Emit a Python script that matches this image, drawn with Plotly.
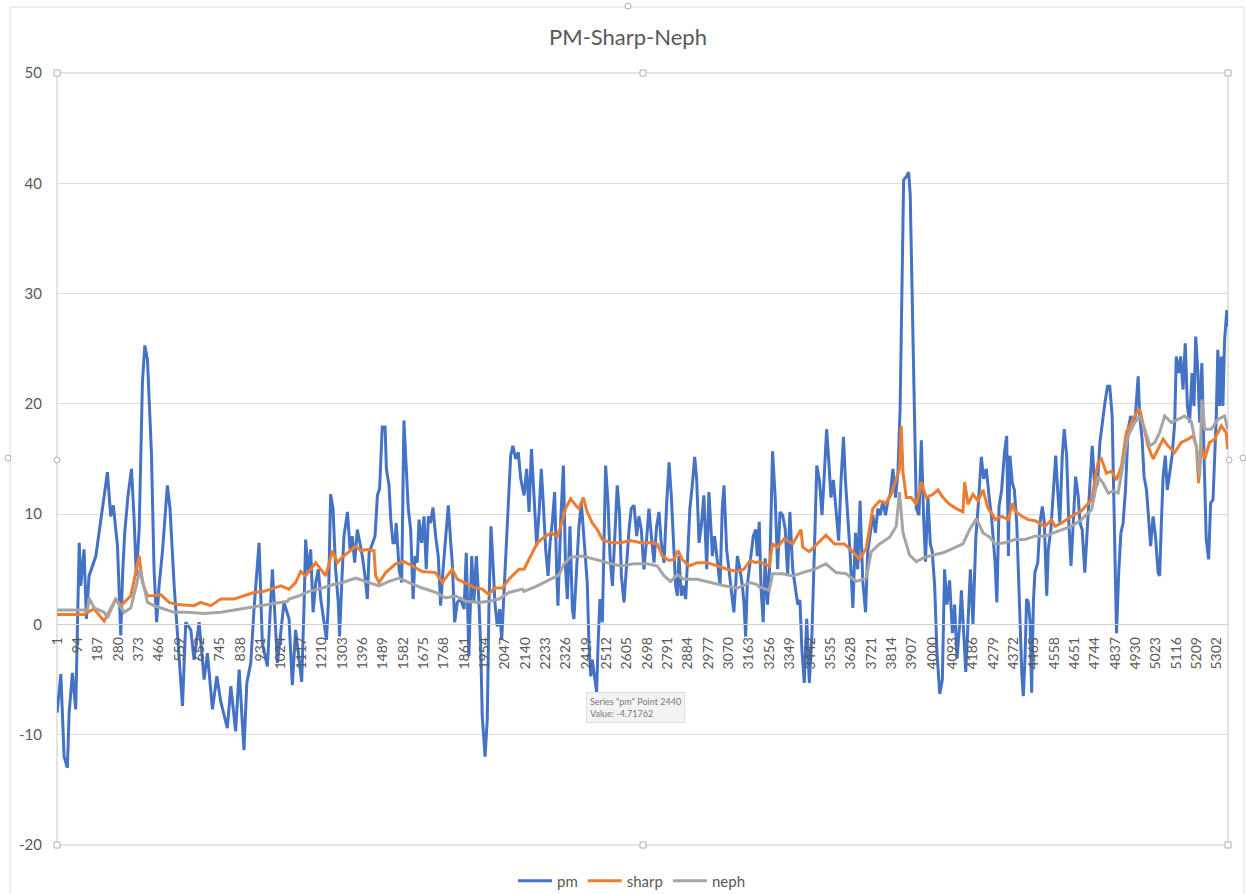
import plotly.graph_objects as go

# ---------------- data ----------------
title_text = "PM-Sharp-Neph"
series_names = ["pm", "sharp", "neph"]

x_ticks = list(range(1, 5303, 93))          # category labels shown: 1, 94, ..., 5302
y_ticks = [-20, -10, 0, 10, 20, 30, 40, 50]

pm_idx = [
    1, 18, 33, 48, 56, 71, 86, 102, 109, 124,
    135, 147, 178, 201, 231, 246, 258, 277, 287, 292,
    300, 310, 325, 341, 353, 363, 376, 391, 402, 414,
    432, 444, 456, 467, 482, 505, 517, 536, 574, 589,
    612, 627, 650, 673, 688, 711, 731, 749, 779, 795,
    817, 833, 855, 868, 886, 901, 924, 939, 962, 985,
    1008, 1038,
    1061, 1076, 1091, 1107, 1119, 1130, 1137, 1149, 1160, 1171,
    1183, 1195, 1206, 1221, 1232, 1241, 1251, 1262, 1274, 1286,
    1292, 1302, 1312, 1328, 1340, 1350, 1361, 1373, 1384, 1396,
    1408, 1419, 1427, 1439, 1454, 1465, 1475, 1487, 1500, 1506,
    1518, 1526, 1536, 1545, 1551, 1564, 1576, 1586, 1597, 1606,
    1617, 1628, 1637, 1647, 1655, 1667, 1678, 1688, 1698, 1708,
    1719, 1731, 1743, 1754, 1765, 1777, 1789, 1800, 1807, 1818,
    1830, 1845, 1861, 1871, 1883, 1896, 1906, 1917, 1929, 1937,
    1944, 1957, 1967, 1975, 1984, 1993, 2002, 2013, 2024, 2033,
    2043, 2054, 2063, 2074, 2084, 2097, 2109, 2120,
    2135, 2147, 2158, 2169, 2181, 2193, 2204, 2214, 2223, 2234,
    2245, 2254, 2264, 2275, 2284, 2290, 2303, 2315, 2325, 2333,
    2345, 2356, 2363, 2376, 2386, 2397, 2409, 2417, 2424, 2432,
    2440, 2447, 2458, 2467, 2473, 2482, 2493, 2501, 2508, 2519,
    2528, 2539, 2549, 2561, 2571, 2580, 2592, 2604, 2615, 2625,
    2638, 2650, 2660, 2671, 2683, 2695, 2706, 2717, 2729, 2741,
    2752, 2762, 2775, 2787, 2798, 2808, 2820, 2828, 2836, 2843,
    2854, 2863, 2874, 2881, 2893, 2904, 2915, 2924, 2935, 2945,
    2957, 2970, 2980, 2988, 2996, 3006, 3018, 3031, 3041, 3049,
    3061, 3072, 3082, 3094, 3102, 3110, 3122, 3133, 3140, 3148,
    3155, 3163, 3171, 3183, 3194, 3201,
    3210, 3218, 3228, 3237, 3248, 3259, 3271, 3283, 3294, 3305,
    3317, 3329, 3340, 3350, 3363, 3375, 3386, 3396, 3405, 3416,
    3427, 3439, 3451, 3462, 3473, 3485, 3497, 3508, 3518, 3528,
    3538, 3549, 3561, 3573, 3584, 3595, 3604, 3615, 3625, 3638,
    3650, 3660, 3671, 3683, 3696, 3706, 3717, 3729, 3741, 3752,
    3763, 3775, 3787, 3798, 3809, 3821, 3833, 3844, 3854, 3864,
    3870, 3882, 3893, 3900, 3909, 3919, 3928, 3940, 3951, 3961,
    3970, 3981, 3992, 4001, 4012, 4022, 4035, 4047, 4057, 4068,
    4080, 4093, 4103, 4114, 4126, 4134, 4145, 4154, 4164, 4175,
    4187, 4200, 4210, 4225, 4236, 4248, 4261, 4271,
    4288, 4296, 4306, 4318, 4331, 4341, 4349, 4356, 4367, 4376,
    4387, 4394, 4402, 4410, 4417, 4425, 4432, 4440, 4448, 4455,
    4463, 4470, 4483, 4493, 4504, 4513, 4524, 4531, 4543, 4554,
    4565, 4574, 4584, 4595, 4604, 4615, 4625, 4635, 4645, 4656,
    4668, 4676, 4686, 4698, 4711, 4721, 4732, 4744, 4756, 4767,
    4777, 4790, 4802, 4812, 4823, 4832, 4843, 4853, 4863, 4873,
    4884, 4896, 4908, 4919, 4929, 4942, 4949, 4960, 4969, 4980,
    4990, 4999, 5010, 5021, 5033, 5040, 5048, 5056, 5066, 5075,
    5086, 5097, 5109, 5116, 5127, 5136, 5147, 5157, 5167, 5177,
    5188, 5197, 5205, 5215, 5223, 5233, 5243, 5253, 5264, 5273,
    5284, 5291, 5299, 5306, 5314, 5322, 5329, 5337, 5347, 5351,
]
pm_val = [
    -8, -4.5, -12, -13, -8, -4.4, -7.7, 7.4, 3.5, 6.8,
    0.5, 4.4, 6.2, 9.5, 13.8, 9.8, 10.8, 7.1, 2.3, -1,
    4.4, 8.3, 11.7, 14.1, 9.5, 4.4, 8.6, 22, 25.3, 24,
    15.6, 5, 0.2, 3.5, 6.5, 12.6, 10.5, 3.5, -7.4, 0.2,
    -0.5, -3.2, 0.2, -5, -2.6, -7.7, -4.7, -7, -9.4, -5.6,
    -9.7, -4.1, -11.4, -5.3, -3.5, 1.4, 7.4, -1.7, -3.8, 5,
    -3.5, 2,
    0.5, -5.5, -0.5, -3.2, -5.2, 2, 7.7, 4.7, 6.8, 1.1,
    3.8, 5, 2.3, 0.2, -1.4, 2, 11.8, 10.5, 5, 2,
    -1.1, 3.8, 8, 10.2, 6.8, 8, 5.6, 8.6, 7.4, 6.2,
    4.4, 2.3, 6.5, 7.1, 8, 11.7, 12.3, 17.9, 17.9, 14.1,
    12.6, 9.5, 7.4, 7.4, 9.2, 5, 3.8, 18.5, 14.1, 10.5,
    8.6, 2.3, 6.2, 5.6, 9.5, 7.4, 9.8, 5, 9.8, 9.2,
    10.6, 8, 6.2, 1.7, 5, 7.7, 10.8, 7.4, 5.6, 0.2,
    2, 2.3, 1.4, 6.5, -2.9, 6.2, 2, 6.2, 2, -2,
    -8.3, -12, -8.6, 2, 8.9, 5.6, 2, -0.2, 1.4, -1.4,
    2.6, 6.2, 11, 15.3, 16.2, 15, 15.6, 13.2,
    11.7, 14.1, 10.2, 15.9, 11.5, 7.1, 10.2, 14.1, 11, 6.8,
    4.4, 7.4, 9.2, 12, 5, 1.7, 9.5, 14.4, 5, 2.3,
    8.9, 1.4, 0.5, 5, 8.9, 11, 7.4, 5, 3.8, -2,
    -4.71762, -3.2, -5, -6.2, -2, 2.3, 0.2, 8, 14.4, 11,
    6.2, 3.5, 8, 12.6, 10.2, 4.4, 2, 5.6, 8.6, 10.5,
    10.8, 8, 9.8, 8.6, 5, 7.7, 10.5, 8, 5.6, 8.9,
    10.2, 7.4, 5.6, 11, 14.7, 11.7, 7.4, 3.5, 2.6, 6.2,
    2.6, 3.5, 2.3, 5, 10.5, 12.6, 15.2, 13.2, 7.4, 8.9,
    11.7, 5, 12, 9.2, 6.2, 8, 5.6, 3.5, 10.5, 12.6,
    6.8, 5, 3.5, 1.1, 3.5, 6.2, 5, 3.5, 2, -1.1,
    3.5, 4.7, 6.2, 8, 8.6, 6.2,
    9.3, 3.4, 0.2, 6, 1.8, 5.7, 15.7, 11.5, 5, 10.2,
    9.9, 8.6, 4.4, 10.2, 5, 3.4, 1.8, 2.2, -2.3, -5.3,
    0.5, -5.3, -0.8, 6.6, 14.4, 13.1, 9.9, 13.8, 17.7, 14.8,
    11.5, 13.1, 9.9, 7.6, 13.1, 17, 13.1, 9.9, 6.6, 1.5,
    8.3, 5, 11.2, 4, 1.1, 6.6, 8.3, 9.9, 8.3, 10.5,
    9.9, 11.2, 9.9, 11.2, 11.8, 14.1, 11.5, 13.8, 19.6, 32.6,
    40.3, 40.6, 41, 39, 29.3, 19.6, 10.5, 9.9, 16.7, 9.9,
    5.7, 11.5, 7.3, 6.6, 3.4, -2.4, -6.3, -5, 5, 1.8,
    4, -0.8, 1.8, -3.1, 0, 3.1, -1.5, -4.3, 0, 5,
    0, 7.9, 10.5, 15.2, 13.2, 14.1, 11.5, 9.9,
    5.6, 2, 10.7, 12.2, 15.6, 17.1, 6.2, 15.3, 12.8, 12.2,
    9.2, 4.7, 0.2, -4.4, -6.5, -2.9, 2.3, 2, 0.2, -6.2,
    2, 4.7, 5.6, 9.2, 10.7, 9.2, 2.6, 6.8, 8.6, 11.6,
    15.3, 12.2, 9.2, 15.3, 17.7, 15.3, 9.2, 5.3, 9.2, 13.4,
    11.6, 9.2, 8.6, 4.7, 9.2, 12.5, 16.2, 12.2, 12.8, 16.5,
    18.3, 20.1, 21.6, 21.6, 18.9, 9.2, -0.8, 4.7, 8.3, 9.2,
    12.2, 17.7, 18.9, 18.3, 18.9, 22.5, 18.9, 16.8, 13.4, 12.2,
    9.2, 7.1, 9.8, 8, 4.7, 4.4, 9.2, 13.4, 15.3, 12.2,
    13.7, 15.3, 18.3, 24.3, 22.8, 24.3, 21.3, 25.5, 19.8, 18.3,
    22.8, 19.8, 26.1, 22.8, 18.3, 23.7, 15.3, 7.7, 5.9, 11,
    11.3, 14.7, 18.9, 24.9, 19.8, 24.3, 19.8, 25.8, 28.5, 27,
]

sharp_idx = [
    1, 124, 140, 170, 216, 246, 269, 292, 338, 376,
    391, 414, 444, 475, 513, 551, 627, 657, 703, 749,
    810, 855, 901, 947, 1023,
    1061, 1091, 1114, 1137, 1183, 1206, 1229, 1259, 1282, 1305,
    1343, 1366, 1388, 1419, 1449, 1457, 1472, 1503, 1548, 1586,
    1625, 1670, 1731, 1762, 1784, 1807, 1830, 1861, 1914, 1944,
    1975, 1998, 2036, 2066, 2112,
    2135, 2165, 2196, 2226, 2257, 2287, 2303, 2325, 2348, 2371,
    2386, 2406, 2424, 2447, 2470, 2493, 2531, 2577, 2622, 2668,
    2714, 2744, 2767, 2798, 2820, 2839, 2858, 2889, 2927, 2973,
    3018, 3064, 3110, 3140, 3168, 3194,
    3210, 3256, 3271, 3294, 3325, 3363, 3401, 3409, 3439, 3477,
    3515, 3554, 3599, 3638, 3668, 3699, 3729, 3760, 3790, 3813,
    3836, 3851, 3859, 3867, 3882, 3905, 3928, 3951, 3974, 4004,
    4027, 4050, 4080, 4111, 4141, 4149, 4164, 4187, 4210, 4233,
    4256, 4279,
    4288, 4318, 4349, 4367, 4379, 4410, 4440, 4470, 4516, 4546,
    4562, 4592, 4638, 4683, 4729, 4759, 4774, 4797, 4820, 4843,
    4866, 4888, 4911, 4934, 4949, 4964, 4987, 5010, 5033, 5056,
    5078, 5109, 5139, 5170, 5192, 5208, 5218, 5230, 5246, 5268,
    5291, 5322, 5344, 5351,
]
sharp_val = [
    0.9, 0.9, 1.1, 1.4, 0.3, 1.4, 2.3, 1.7, 2.6, 6.2,
    3.8, 2.6, 2.6, 2.7, 2, 1.8, 1.7, 2, 1.7, 2.3,
    2.3, 2.6, 2.9, 3, 3.5,
    3.2, 3.8, 4.8, 4.4, 5.6, 5, 4.4, 6.7, 5.6, 6.1,
    6.7, 7.1, 6.7, 6.8, 6.7, 4.4, 3.8, 4.7, 5.5, 5.7,
    5.3, 4.8, 4.7, 3.8, 4.4, 5, 4.1, 3.8, 3.3, 3.2,
    2.7, 3.3, 3.3, 4.1, 5,
    5, 6.2, 7.4, 7.9, 8.3, 8, 8.9, 10.5, 11.4, 10.8,
    10.5, 11.5, 10.2, 9.2, 8.6, 7.7, 7.4, 7.4, 7.6, 7.4,
    7.4, 7.3, 6.2, 5.8, 5.9, 6.7, 5.9, 5.3, 5.6, 5.6,
    5.3, 5, 4.8, 5, 5.8, 5.6,
    5.7, 5.3, 7.3, 7, 7.8, 7.3, 8.6, 7, 6.6, 7.4,
    8.1, 7.3, 7.3, 6.6, 5.9, 6.9, 10.5, 11.2, 11, 11.8,
    13.1, 14.1, 18, 13.8, 11.5, 11.5, 10.9, 12.9, 11.5, 11.8,
    12.2, 11.5, 10.9, 10.5, 10.2, 12.9, 10.9, 11.8, 11.2, 12.2,
    10.5, 9.9,
    9.5, 9.8, 9.5, 11, 10.3, 9.8, 9.5, 9.4, 8.9, 9.5,
    8.9, 9.2, 9.8, 10.3, 11.3, 14.7, 15, 13.7, 13.9, 13.1,
    14.4, 17.4, 18.3, 19.2, 19.5, 18.3, 16.2, 15, 15.9, 16.8,
    16.2, 15.6, 16.5, 16.8, 17.1, 16.2, 12.8, 16.2, 15, 16.5,
    16.8, 18, 17.4, 15.9,
]

neph_idx = [
    1, 140, 147, 170, 216, 231, 269, 307, 338, 380,
    414, 444, 490, 536, 596, 673, 749, 840, 901, 977,
    1054,
    1061, 1107, 1152, 1213, 1259, 1305, 1366, 1427, 1472, 1518,
    1564, 1609, 1670, 1731, 1777, 1823, 1868, 1929, 1975, 2020,
    2066, 2127,
    2135, 2196, 2257, 2295, 2318, 2348, 2402, 2455, 2516, 2577,
    2638, 2699, 2744, 2775, 2805, 2836, 2866, 2927, 2988, 3049,
    3110, 3171, 3201,
    3210, 3256, 3271, 3317, 3363, 3409, 3462, 3515, 3561, 3607,
    3653, 3699, 3722, 3760, 3806, 3836, 3851, 3867, 3897, 3928,
    3958, 4004, 4050, 4096, 4141, 4172, 4203, 4233, 4264,
    4288, 4334, 4379, 4425, 4470, 4516, 4554, 4592, 4638, 4683,
    4729, 4759, 4782, 4805, 4828, 4850, 4873, 4896, 4926, 4949,
    4972, 4995, 5018, 5040, 5063, 5094, 5124, 5154, 5185, 5215,
    5223, 5233, 5246, 5276, 5306, 5337, 5351,
]
neph_val = [
    1.3, 1.3, 2.4, 1.5, 1.1, 0.6, 2.3, 1.1, 1.5, 5,
    2, 1.7, 1.4, 1.1, 1.1, 1, 1.1, 1.4, 1.6, 1.8,
    2.1,
    2.3, 2.6, 3, 3.3, 3.6, 3.8, 4.2, 3.8, 3.5, 3.9,
    4.2, 3.8, 3.3, 2.9, 2.4, 2.6, 2.1, 2, 2.1, 2.3,
    2.9, 3.2,
    3, 3.5, 4.1, 4.5, 5.5, 6.1, 6.2, 5.9, 5.6, 5.3,
    5.5, 5.5, 5.3, 4.4, 3.9, 4.5, 4.1, 4.1, 3.8, 3.5,
    3.3, 3.8, 3.6,
    3.4, 3.1, 4.6, 4.6, 4.4, 4.7, 5, 5.5, 4.7, 4.6,
    3.9, 4.2, 6.6, 7.3, 7.9, 8.9, 12, 8.3, 6.3, 5.7,
    6, 6.3, 6.5, 6.9, 7.3, 8.6, 9.6, 8.3, 7.9,
    7.3, 7.4, 7.7, 7.7, 8, 8, 8.3, 8.6, 8.9, 9.5,
    10.4, 13.4, 12.8, 11.9, 12.1, 11.9, 14.7, 17.1, 18.3, 18.9,
    17.7, 16.2, 16.5, 17.4, 18.9, 18.3, 18.6, 18.9, 18.4, 15.3,
    13.4, 20.4, 17.7, 17.7, 18.6, 18.9, 17.7,
]

tooltip_lines = ['Series "pm" Point 2440', "Value: -4.71762"]

# ---------------- styling ----------------
W, H = 1246, 894
M_L, M_R, M_T, M_B = 57, 18, 73, 49
PW, PH = W - M_L - M_R, H - M_T - M_B
FONT = "Lato, 'Open Sans', sans-serif"
TXT = "#595959"
colors = {"pm": "#4472C4", "sharp": "#ED7D31", "neph": "#A5A5A5"}
Y_MIN, Y_MAX = -20, 50
N_CAT = 5352


def px_x(x):
    return (x - M_L) / PW


def px_y(y):
    return (M_T + PH - y) / PH


fig = go.Figure()
for name, xs, ys in [("pm", pm_idx, pm_val), ("sharp", sharp_idx, sharp_val), ("neph", neph_idx, neph_val)]:
    assert len(xs) == len(ys), name
    fig.add_trace(go.Scatter(x=xs, y=ys, mode="lines", name=name,
                             line=dict(color=colors[name], width=3)))

shapes = []
# chart area frame
shapes.append(dict(type="rect", xref="paper", yref="paper",
                   x0=px_x(10), x1=px_x(1244), y0=px_y(920), y1=px_y(7),
                   line=dict(color="#dcdcdc", width=1), layer="below"))
# plot area frame
shapes.append(dict(type="rect", xref="paper", yref="paper", x0=0, x1=1, y0=0, y1=1,
                   line=dict(color="#c8c8c8", width=1), layer="below"))
# selection handles
for hx, hy, kind in [(57, 73, "rect"), (643, 73, "rect"), (1228, 73, "rect"),
                     (57, 845, "rect"), (643, 845, "rect"), (1228, 845, "rect"),
                     (57, 460, "circle"), (1229, 460, "circle"),
                     (628, 6, "circle"), (8, 458, "circle"), (1243, 458, "circle")]:
    shapes.append(dict(type=kind, xref="paper", yref="paper",
                       x0=px_x(hx - 3), x1=px_x(hx + 3), y0=px_y(hy + 3), y1=px_y(hy - 3),
                       fillcolor="white", line=dict(color="#b0b0b0", width=1)))

fig.update_layout(
    width=W, height=H,
    margin=dict(l=M_L, r=M_R, t=M_T, b=M_B, autoexpand=False),
    paper_bgcolor="white", plot_bgcolor="white",
    font=dict(family=FONT, color=TXT, size=14),
    title=dict(text=title_text, x=628 / W, xref="container", xanchor="center",
               y=1 - 37 / H, yref="container", yanchor="middle",
               font=dict(family=FONT, size=22, color=TXT)),
    xaxis=dict(range=[0.5, N_CAT + 0.5], tickmode="array", tickvals=x_ticks,
               ticktext=[str(v) for v in x_ticks], tickangle=-90,
               showgrid=False, zeroline=False, anchor="free",
               position=(0 - Y_MIN) / (Y_MAX - Y_MIN),
               showline=True, linecolor="#d0d0d0", linewidth=1, ticks="",
               ticklabelstandoff=6,
               tickfont=dict(family=FONT, size=14, color=TXT)),
    yaxis=dict(range=[Y_MIN, Y_MAX], tickmode="array", tickvals=y_ticks,
               ticktext=[str(v) for v in y_ticks], showgrid=True,
               gridcolor="#dcdcdc", gridwidth=1, zeroline=False, showline=False,
               ticks="", ticklabelstandoff=14,
               tickfont=dict(family=FONT, size=15, color=TXT)),
    legend=dict(orientation="h", xref="container", x=632 / W, xanchor="center",
                yref="container", y=1 - 881 / H, yanchor="middle",
                font=dict(family=FONT, size=15, color=TXT), bgcolor="rgba(0,0,0,0)",
                itemwidth=34),
    shapes=shapes,
    annotations=[dict(xref="paper", yref="paper", x=px_x(586), y=px_y(692),
                      xanchor="left", yanchor="top", align="left", showarrow=False,
                      text="<br>".join(tooltip_lines),
                      font=dict(family=FONT, size=9, color="#7a7a7a"),
                      bgcolor="#f3f3f3", bordercolor="#dedede", borderwidth=1, borderpad=3)],
    showlegend=True,
)

fig.write_html("out.html", config={"displayModeBar": False},
               post_script="document.body.style.margin='0';document.body.style.overflow='hidden';")
